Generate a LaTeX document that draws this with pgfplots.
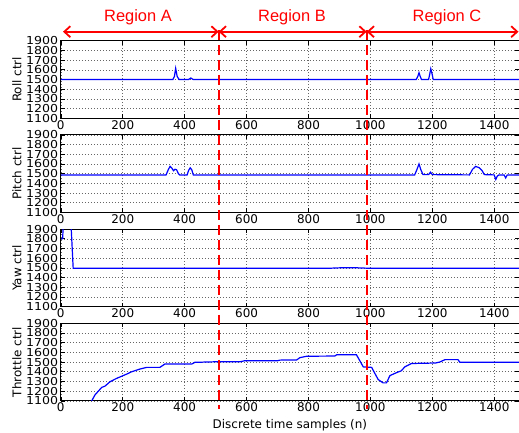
\documentclass[border=0pt]{standalone}
\usepackage{fontspec}
\setmainfont{DejaVu Sans}
\newfontfamily\regionfont{Liberation Sans}
\newfontfamily\ytickfont[FakeStretch=1.15]{DejaVu Sans}
\usepackage{pgfplots}
\pgfplotsset{compat=1.18}
\usetikzlibrary{arrows.meta}

\pgfplotsset{myax/.style={
  scale only axis, width=458.2bp, height=77.5bp,
  xmin=0, xmax=1480, ymin=1100, ymax=1900,
  xtick={0,200,...,1400}, ytick={1100,1200,...,1900},
  anchor=south west,
  grid=major, grid style={black!60, line width=0.5bp, dash pattern=on 1bp off 2bp},
  axis line style={black, line width=0.9bp},
  tick align=inside, major tick length=4bp, tick style={black, line width=0.6bp},
  /pgf/number format/assume math mode=true,
  /pgf/number format/1000 sep={},
  xticklabel style={font=\fontsize{12}{12}\selectfont, inner sep=2bp},
  yticklabel style={font=\ytickfont\fontsize{11}{11}\selectfont, inner sep=1bp, xshift=-1.5bp},
  ylabel style={at={(axis description cs:-0.096,0.5)}, anchor=center, font=\fontsize{12}{12}\selectfont},
  xlabel style={at={(axis description cs:0.5,-0.31)}, anchor=center, font=\fontsize{12}{12}\selectfont},
  no markers,
  every axis plot post/.append style={blue, line width=1.2bp, mark=none},
}}

\begin{document}
\begin{tikzpicture}
\useasboundingbox (0,0) rectangle (519bp,433bp);

% Roll
\begin{axis}[myax, at={(60.8bp,314.8bp)}, ylabel={Roll ctrl}]
\addplot coordinates {(0,1500) (362,1500) (367,1530) (371,1615) (376,1530) (382,1500) (413,1500) (420,1515) (427,1500)
 (1148,1500) (1153,1530) (1157,1570) (1161,1530) (1165,1500) (1188,1500) (1192,1560) (1195,1610) (1199,1560) (1203,1500) (1480,1500)};
\coordinate (ra) at (axis cs:510,1900);
\coordinate (rb) at (axis cs:988,1900);
\end{axis}

% Pitch
\begin{axis}[myax, at={(60.8bp,220.6bp)}, ylabel={Pitch ctrl}]
\addplot coordinates {(0,1487) (340,1487) (347,1540) (353,1575) (358,1560) (364,1530) (369,1545) (374,1540) (380,1500) (384,1487)
 (408,1487) (413,1535) (418,1560) (423,1540) (428,1487)
 (1143,1487) (1150,1540) (1157,1600) (1163,1540) (1170,1490) (1188,1490) (1194,1515) (1200,1490)
 (1320,1487) (1330,1545) (1340,1575) (1352,1560) (1360,1535) (1368,1490) (1400,1487) (1405,1440) (1410,1475) (1415,1487)
 (1432,1487) (1437,1455) (1442,1487) (1480,1487)};
\end{axis}

% Yaw
\begin{axis}[myax, at={(60.8bp,126.4bp)}, ylabel={Yaw ctrl}]
\addplot coordinates {(2,1800) (6,1800) (8,1950) (33,1950) (40,1495) (860,1495) (900,1500) (960,1500) (1000,1495) (1480,1495)};
\end{axis}

% Throttle
\begin{axis}[myax, at={(60.8bp,32.2bp)}, ylabel={Throttle ctrl}, xlabel={Discrete time samples (n)}]
\addplot coordinates {(95,1080) (100,1100) (110,1159) (132,1238) (143,1252) (159,1297) (180,1331) (213,1376) (229,1400)
 (256,1428) (277,1445) (320,1445) (336,1479) (423,1479) (433,1497) (503,1503) (579,1503) (595,1514) (700,1514)
 (708,1520) (762,1522) (772,1545) (794,1560) (885,1562) (891,1575) (955,1575) (977,1450) (1004,1445) (1025,1320)
 (1041,1285) (1052,1285) (1063,1360) (1084,1390) (1100,1410) (1111,1450) (1133,1485) (1210,1490) (1224,1500)
 (1241,1525) (1283,1525) (1289,1497) (1480,1497)};
\end{axis}

\path (0,403bp) coordinate (ytop) (0,24bp) coordinate (ybot) (0,401.3bp) coordinate (yarr);
\draw[red, line width=2bp, dash pattern=on 10bp off 5bp] (ra |- ytop) -- (ra |- ybot);
\draw[red, line width=2bp, dash pattern=on 10bp off 5bp] (rb |- ytop) -- (rb |- ybot);

\draw[red, line width=1.8bp, {Straight Barb[length=6bp,width=11bp]}-{Straight Barb[length=6bp,width=11bp]}]
  (63bp,401.3bp) -- (ra |- yarr);
\draw[red, line width=1.8bp, {Straight Barb[length=6bp,width=11bp]}-{Straight Barb[length=6bp,width=11bp]}]
  (ra |- yarr) -- (rb |- yarr);
\draw[red, line width=1.8bp, {Straight Barb[length=6bp,width=11bp]}-{Straight Barb[length=6bp,width=11bp]}]
  (rb |- yarr) -- (518.5bp,401.3bp);

\node[red, font=\regionfont\fontsize{16.5}{16.5}\selectfont] at (138bp,416bp) {Region A};
\node[red, font=\regionfont\fontsize{16.5}{16.5}\selectfont] at (292bp,416bp) {Region B};
\node[red, font=\regionfont\fontsize{16.5}{16.5}\selectfont] at (447bp,416bp) {Region C};
\end{tikzpicture}
\end{document}
